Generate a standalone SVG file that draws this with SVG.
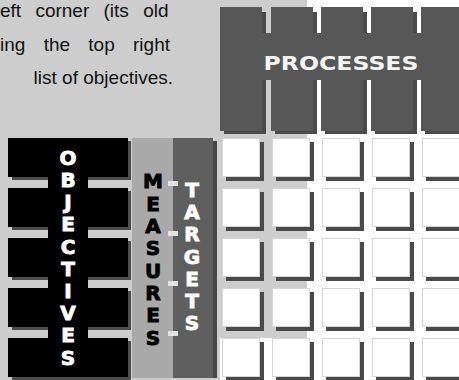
<svg xmlns="http://www.w3.org/2000/svg" width="459" height="380" viewBox="0 0 459 380">
<style>
.bg{fill:#cdcdcd}
.pcol{fill:#575757}
.psh{fill:#4a4a4a}
.obj{fill:#000}
.osh{fill:#4d4d4d}
.cell{fill:#fff;stroke:#d6d6d6;stroke-width:1}
.csh{fill:#4a4a4a}
.para{font-family:"Liberation Sans",Arial,sans-serif;font-size:19px;fill:#111}
.lw{font-family:"DejaVu Sans",sans-serif;font-weight:bold;font-size:20px;fill:#fff;stroke:#fff;stroke-width:0.9;text-anchor:middle}
.lb{font-family:"DejaVu Sans",sans-serif;font-weight:bold;font-size:20px;fill:#000;stroke:#000;stroke-width:0.9;text-anchor:middle}
.dash{fill:#e2e2e2}
</style>
<rect width="459" height="380" fill="#fff"/>
<path class="bg" d="M0 0H307V338H220V380H0Z"/>
<g id="paragraph">
<text class="para" x="0" y="17" word-spacing="9">eft corner (its old</text>
<text class="para" x="0" y="51" word-spacing="13">ing the top right</text>
<text class="para" x="173" y="84" text-anchor="end" font-size="17">list of objectives.</text>
</g>
<g id="processes">
<rect class="psh" x="224" y="12" width="42" height="122"/>
<rect class="psh" x="275" y="12" width="42" height="122"/>
<rect class="psh" x="325" y="12" width="42" height="122"/>
<rect class="psh" x="375" y="12" width="42" height="122"/>
<rect class="psh" x="425" y="12" width="42" height="122"/>
<rect class="pcol" x="220" y="7" width="42" height="124"/>
<rect class="pcol" x="271" y="7" width="42" height="124"/>
<rect class="pcol" x="321" y="7" width="42" height="124"/>
<rect class="pcol" x="371" y="7" width="42" height="124"/>
<rect class="pcol" x="421" y="7" width="42" height="124"/>
<rect class="pcol" x="220" y="33" width="239" height="47"/>
<text x="341" y="70" textLength="155" lengthAdjust="spacingAndGlyphs" style="font-family:'DejaVu Sans',sans-serif;font-weight:bold;font-size:20px;fill:#f4f4f4;text-anchor:middle">PROCESSES</text>
</g>
<g id="objectives">
<rect class="osh" x="12" y="141" width="119" height="39"/>
<rect class="osh" x="12" y="191" width="119" height="39"/>
<rect class="osh" x="12" y="241" width="119" height="39"/>
<rect class="osh" x="12" y="291" width="119" height="39"/>
<rect class="osh" x="12" y="341" width="119" height="39"/>
<rect class="obj" x="8" y="138" width="120" height="39"/>
<rect class="obj" x="8" y="188" width="120" height="39"/>
<rect class="obj" x="8" y="238" width="120" height="39"/>
<rect class="obj" x="8" y="288" width="120" height="39"/>
<rect class="obj" x="8" y="338" width="120" height="39"/>
<rect class="obj" x="48" y="138" width="40" height="239"/>
<text class="lw" x="68" y="165">O</text>
<text class="lw" x="68" y="187">B</text>
<text class="lw" x="68" y="209">J</text>
<text class="lw" x="68" y="231">E</text>
<text class="lw" x="68" y="254">C</text>
<text class="lw" x="68" y="276">T</text>
<text class="lw" x="68" y="298">I</text>
<text class="lw" x="68" y="320">V</text>
<text class="lw" x="68" y="342">E</text>
<text class="lw" x="68" y="365">S</text>
</g>
<g id="measures">
<rect x="132" y="138" width="41" height="240" fill="#a9a9a9"/>
<text class="lb" x="153" y="188">M</text>
<text class="lb" x="153" y="211">E</text>
<text class="lb" x="153" y="233">A</text>
<text class="lb" x="153" y="255">S</text>
<text class="lb" x="153" y="278">U</text>
<text class="lb" x="153" y="300">R</text>
<text class="lb" x="153" y="322">E</text>
<text class="lb" x="153" y="345">S</text>
</g>
<g id="targets">
<rect x="213" y="141" width="4" height="237" fill="#474747"/>
<rect x="173" y="138" width="40" height="240" fill="#5f5f5f"/>
<text class="lw" x="192" y="197">T</text>
<text class="lw" x="192" y="219">A</text>
<text class="lw" x="192" y="241">R</text>
<text class="lw" x="192" y="264">G</text>
<text class="lw" x="192" y="286">E</text>
<text class="lw" x="192" y="308">T</text>
<text class="lw" x="192" y="330">S</text>
</g>
<g id="connectors">
<rect class="dash" x="168" y="181" width="10" height="5"/>
<rect class="dash" x="168" y="231" width="10" height="5"/>
<rect class="dash" x="168" y="281" width="10" height="5"/>
<rect class="dash" x="168" y="331" width="10" height="5"/>
</g>
<g id="grid">
<g id="row1">
<rect class="csh" x="226" y="142" width="38" height="39"/><rect class="cell" x="222.5" y="138.5" width="37" height="38"/>
<rect class="csh" x="276" y="142" width="38" height="39"/><rect class="cell" x="272.5" y="138.5" width="37" height="38"/>
<rect class="csh" x="326" y="142" width="38" height="39"/><rect class="cell" x="322.5" y="138.5" width="37" height="38"/>
<rect class="csh" x="376" y="142" width="38" height="39"/><rect class="cell" x="372.5" y="138.5" width="37" height="38"/>
<rect class="csh" x="426" y="142" width="38" height="39"/><rect class="cell" x="422.5" y="138.5" width="37" height="38"/>
</g>
<g id="row2">
<rect class="csh" x="226" y="192" width="38" height="39"/><rect class="cell" x="222.5" y="188.5" width="37" height="38"/>
<rect class="csh" x="276" y="192" width="38" height="39"/><rect class="cell" x="272.5" y="188.5" width="37" height="38"/>
<rect class="csh" x="326" y="192" width="38" height="39"/><rect class="cell" x="322.5" y="188.5" width="37" height="38"/>
<rect class="csh" x="376" y="192" width="38" height="39"/><rect class="cell" x="372.5" y="188.5" width="37" height="38"/>
<rect class="csh" x="426" y="192" width="38" height="39"/><rect class="cell" x="422.5" y="188.5" width="37" height="38"/>
</g>
<g id="row3">
<rect class="csh" x="226" y="242" width="38" height="39"/><rect class="cell" x="222.5" y="238.5" width="37" height="38"/>
<rect class="csh" x="276" y="242" width="38" height="39"/><rect class="cell" x="272.5" y="238.5" width="37" height="38"/>
<rect class="csh" x="326" y="242" width="38" height="39"/><rect class="cell" x="322.5" y="238.5" width="37" height="38"/>
<rect class="csh" x="376" y="242" width="38" height="39"/><rect class="cell" x="372.5" y="238.5" width="37" height="38"/>
<rect class="csh" x="426" y="242" width="38" height="39"/><rect class="cell" x="422.5" y="238.5" width="37" height="38"/>
</g>
<g id="row4">
<rect class="csh" x="226" y="292" width="38" height="39"/><rect class="cell" x="222.5" y="288.5" width="37" height="38"/>
<rect class="csh" x="276" y="292" width="38" height="39"/><rect class="cell" x="272.5" y="288.5" width="37" height="38"/>
<rect class="csh" x="326" y="292" width="38" height="39"/><rect class="cell" x="322.5" y="288.5" width="37" height="38"/>
<rect class="csh" x="376" y="292" width="38" height="39"/><rect class="cell" x="372.5" y="288.5" width="37" height="38"/>
<rect class="csh" x="426" y="292" width="38" height="39"/><rect class="cell" x="422.5" y="288.5" width="37" height="38"/>
</g>
<g id="row5">
<rect class="csh" x="226" y="342" width="38" height="39"/><rect class="cell" x="222.5" y="338.5" width="37" height="38"/>
<rect class="csh" x="276" y="342" width="38" height="39"/><rect class="cell" x="272.5" y="338.5" width="37" height="38"/>
<rect class="csh" x="326" y="342" width="38" height="39"/><rect class="cell" x="322.5" y="338.5" width="37" height="38"/>
<rect class="csh" x="376" y="342" width="38" height="39"/><rect class="cell" x="372.5" y="338.5" width="37" height="38"/>
<rect class="csh" x="426" y="342" width="38" height="39"/><rect class="cell" x="422.5" y="338.5" width="37" height="38"/>
</g>
</g>
</svg>
